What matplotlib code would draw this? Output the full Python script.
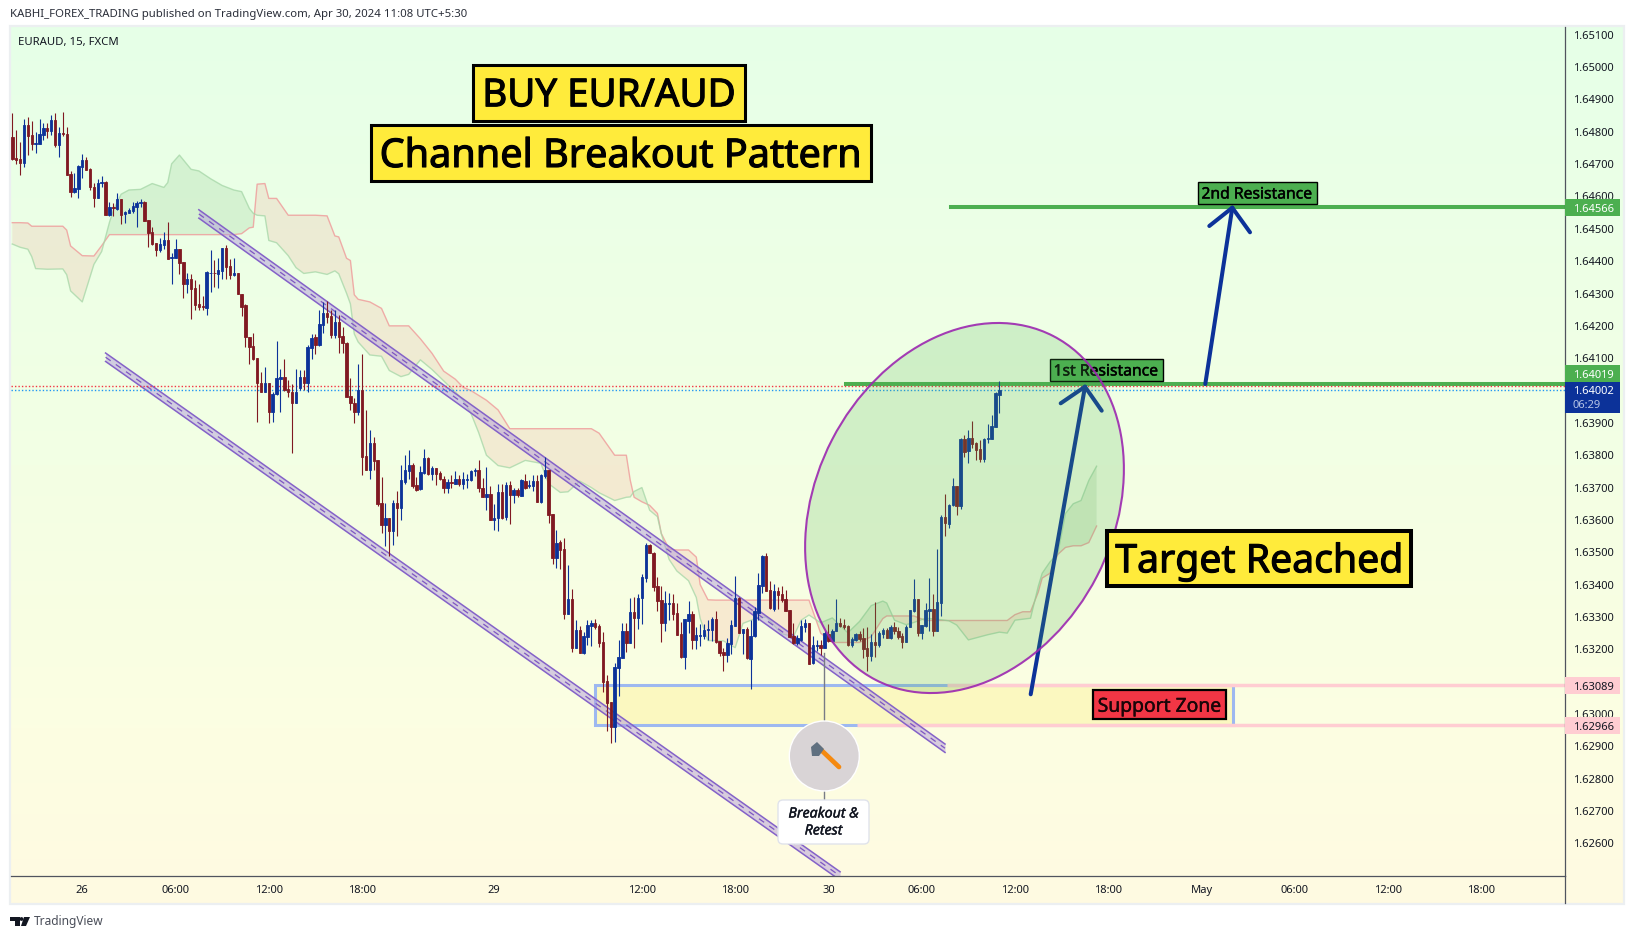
#EURAUD 15m chart with channel, cloud and notes, saved as out.png

import numpy as np
import matplotlib
matplotlib.use('Agg')
import matplotlib.pyplot as plt
import matplotlib.patheffects as pe
from matplotlib.colors import LinearSegmentedColormap, to_rgba
from matplotlib.patches import Rectangle, Ellipse, Circle, FancyBboxPatch, Polygon
from matplotlib.transforms import Affine2D, IdentityTransform

plt.rcParams['font.family'] = ['Noto Sans', 'DejaVu Sans']

#candles, all prices in points above 1.60000
opens = [4785,4718,4716,4704,4821,4790,4763,4763,4790,4813,
    4803,4836,4759,4796,4793,4669,4614,4623,4692,4713,
    4685,4630,4596,4643,4645,4543,4567,4560,4592,4545,
    4549,4556,4569,4581,4583,4527,4490,4456,4435,4450,
    4465,4411,4411,4438,4396,4330,4345,4316,4267,4261,
    4256,4362,4364,4360,4371,4441,4385,4357,4364,4299,
    4263,4166,4138,4101,4023,3997,4023,3935,3988,4037,
    4042,4004,3996,3963,4009,4042,4022,4133,4164,4140,
    4203,4239,4230,4172,4211,4169,4147,3983,3962,3935,
    4002,3798,3754,3837,3785,3651,3584,3605,3567,3651,
    3637,3718,3752,3769,3707,3696,3745,3792,3741,3759,
    3745,3728,3699,3717,3712,3725,3710,3724,3723,3751,
    3754,3700,3671,3680,3599,3607,3685,3609,3707,3676,
    3692,3674,3720,3704,3704,3720,3656,3736,3754,3617,
    3482,3531,3510,3309,3355,3203,3259,3187,3239,3272,
    3280,3273,3222,3102,3037,2961,3142,3174,3255,3218,
    3314,3296,3358,3420,3522,3499,3395,3352,3282,3341,
    3344,3311,3247,3177,3288,3309,3228,3241,3241,3259,
    3261,3293,3225,3191,3182,3216,3272,3357,3251,3264,
    3170,3241,3311,3395,3488,3383,3326,3381,3371,3354,
    3321,3242,3218,3228,3270,3282,3158,3210,3213,3204,
    3247,3227,3255,3280,3275,3273,3213,3229,3247,3234,
    3204,3179,3222,3213,3247,3260,3234,3270,3257,3241,
    3223,3268,3319,3355,3249,3272,3319,3325,3255,3344,
    3610,3587,3645,3705,3643,3851,3814,3853,3839,3818,
    3787,3849,3851,3888,3987]
highs = [4859,4807,4769,4839,4845,4833,4800,4839,4828,4826,
    4852,4857,4814,4860,4814,4679,4674,4697,4730,4723,
    4687,4643,4653,4663,4648,4584,4581,4610,4592,4556,
    4563,4584,4586,4592,4585,4527,4506,4456,4471,4490,
    4521,4424,4468,4438,4396,4362,4360,4342,4330,4293,
    4370,4435,4404,4411,4441,4450,4406,4411,4364,4299,
    4268,4166,4179,4101,4058,4074,4023,3997,4153,4066,
    4098,4033,4021,4067,4064,4064,4141,4175,4175,4249,
    4273,4277,4249,4249,4234,4196,4149,4038,3976,4082,
    4113,3940,3878,3857,3785,3734,3651,3605,3662,3690,
    3769,3800,3815,3777,3733,3766,3818,3795,3766,3759,
    3752,3735,3725,3738,3751,3738,3749,3741,3754,3759,
    3785,3731,3764,3704,3649,3710,3712,3718,3720,3700,
    3700,3725,3741,3723,3738,3738,3741,3793,3754,3617,
    3570,3537,3543,3460,3385,3292,3272,3254,3290,3292,
    3295,3278,3252,3120,3037,3158,3228,3282,3282,3357,
    3362,3370,3434,3530,3527,3501,3424,3395,3380,3373,
    3370,3342,3285,3295,3349,3318,3270,3278,3278,3290,
    3300,3319,3225,3203,3234,3290,3426,3362,3264,3270,
    3290,3331,3437,3491,3499,3411,3403,3393,3396,3383,
    3321,3282,3244,3290,3295,3282,3241,3228,3229,3255,
    3277,3262,3355,3296,3293,3275,3239,3251,3255,3265,
    3270,3247,3345,3255,3265,3265,3275,3285,3270,3249,
    3275,3321,3417,3355,3275,3342,3419,3371,3509,3615,
    3679,3649,3729,3705,3853,3861,3878,3906,3842,3847,
    3853,3898,3924,3994,4029]
lows = [4713,4700,4666,4692,4728,4744,4735,4762,4774,4782,
    4790,4754,4723,4788,4667,4599,4610,4596,4658,4682,
    4620,4569,4596,4630,4543,4540,4540,4558,4515,4519,
    4548,4550,4507,4566,4525,4445,4450,4417,4429,4437,
    4408,4330,4409,4360,4287,4301,4222,4249,4249,4249,
    4234,4306,4321,4318,4344,4346,4346,4354,4297,4229,
    4136,4082,4095,3904,3994,3997,3901,3904,3986,3935,
    4000,3979,3806,3963,4002,4002,3997,4099,4113,4138,
    4179,4208,4162,4162,4115,4115,3979,3940,3899,3925,
    3739,3754,3727,3754,3643,3559,3520,3489,3523,3550,
    3599,3712,3728,3700,3690,3694,3741,3738,3723,3707,
    3723,3684,3684,3700,3710,3704,3697,3700,3721,3735,
    3687,3671,3630,3599,3570,3566,3604,3601,3587,3653,
    3671,3673,3697,3700,3690,3656,3651,3731,3591,3465,
    3452,3448,3295,3309,3192,3203,3189,3185,3213,3210,
    3264,3208,3069,2948,2909,2914,3055,3174,3192,3218,
    3205,3264,3277,3409,3498,3381,3319,3223,3257,3290,
    3292,3245,3172,3139,3249,3201,3201,3210,3233,3228,
    3226,3220,3180,3134,3161,3185,3272,3249,3185,3169,
    3076,3239,3290,3375,3379,3326,3319,3326,3347,3319,
    3237,3216,3213,3226,3254,3154,3156,3195,3182,3203,
    3224,3224,3255,3268,3262,3210,3206,3227,3227,3172,
    3134,3165,3177,3208,3234,3234,3231,3247,3231,3203,
    3221,3268,3316,3242,3231,3270,3255,3242,3255,3303,
    3550,3576,3643,3615,3633,3795,3777,3822,3785,3780,
    3780,3839,3849,3888,3931]
closes = [4716,4714,4704,4821,4788,4762,4766,4793,4813,4803,
    4836,4759,4797,4792,4667,4615,4627,4695,4713,4682,
    4628,4596,4643,4645,4543,4569,4565,4592,4543,4553,
    4557,4571,4580,4583,4525,4488,4453,4435,4453,4465,
    4408,4414,4437,4395,4330,4345,4314,4265,4258,4258,
    4365,4364,4362,4373,4441,4383,4356,4362,4297,4259,
    4164,4136,4098,4023,3997,4023,3935,3990,4038,4041,
    4002,3994,3963,3997,4042,4022,4136,4162,4140,4206,
    4239,4228,4173,4211,4167,4146,3981,3960,3935,4002,
    3796,3754,3837,3782,3649,3584,3605,3567,3651,3636,
    3723,3754,3769,3704,3694,3749,3790,3741,3759,3741,
    3727,3700,3717,3714,3725,3710,3726,3726,3752,3754,
    3699,3671,3680,3599,3607,3685,3607,3707,3676,3692,
    3676,3723,3700,3707,3720,3656,3738,3754,3615,3482,
    3530,3506,3309,3355,3205,3259,3189,3241,3275,3280,
    3270,3220,3100,3035,2961,3144,3175,3255,3218,3314,
    3298,3360,3422,3522,3498,3393,3350,3282,3342,3344,
    3309,3245,3177,3293,3309,3228,3244,3244,3261,3264,
    3294,3224,3189,3182,3220,3275,3357,3251,3264,3172,
    3242,3319,3398,3488,3381,3329,3381,3367,3352,3319,
    3239,3218,3234,3272,3282,3156,3213,3213,3204,3249,
    3227,3258,3280,3272,3270,3213,3231,3247,3231,3202,
    3179,3222,3213,3249,3260,3236,3270,3255,3239,3223,
    3270,3321,3355,3249,3274,3321,3324,3258,3345,3610,
    3589,3647,3705,3643,3851,3810,3853,3834,3816,3787,
    3850,3853,3890,3991,4002]

#ichimoku cloud, read at these bars
cloud_bars = [0,2,4,5,6,9,13,14,15,18,21,23,25,26,28,30,33,36,39,40,41,43,46,48,51,54,57,59,61,62,63,65,66,68,71,73,75,78,81,83,84,
    86,87,88,89,92,95,97,100,102,105,108,111,114,116,118,120,122,125,128,132,136,138,141,143,146,149,151,155,158,159,160,162,164,
    166,167,169,171,174,176,177,179,181,183,186,188,191,194,198,201,203,205,208,211,215,218,221,224,225,227,230,232,235,238,241,
    243,246,251,254,256,258,260,262,264,265,267,269,271,273,275,277,279]
span_red = [4519,4519,4518,4508,4508,4508,4508,4496,4447,4417,4416,4448,4482,4482,4482,4482,4482,4482,4482,4482,4482,4482,4482,4482,4482,4482,4482,4485,4503,4505,4638,4640,4594,4594,4542,4542,4542,4542,4540,4478,4475,
    4409,4402,4296,4282,4274,4254,4200,4200,4200,4160,4115,4060,4035,4010,4000,3985,3970,3940,3882,3882,3882,3882,3882,3882,3882,3882,3868,3800,3800,3723,3670,3656,3645,
    3620,3558,3510,3507,3507,3485,3400,3353,3352,3352,3352,3352,3352,3352,3352,3352,3352,3352,3250,3221,3221,3221,3239,3295,3303,3303,3303,3303,3289,3289,3289,
    3289,3289,3289,3289,3289,3307,3316,3316,3377,3420,3435,3493,3515,3520,3520,3530,3581]
span_green = [4453,4443,4437,4414,4377,4375,4376,4358,4308,4274,4390,4430,4520,4557,4607,4620,4622,4640,4628,4643,4701,4728,4684,4679,4655,4634,4620,4615,4563,4548,4542,4540,4464,4457,4417,4380,4362,4367,4359,4370,4361,
    4301,4268,4175,4150,4110,4106,4062,4043,4050,4095,4065,4030,3995,3970,3930,3870,3800,3768,3761,3784,3775,3712,3685,3687,3720,3700,3684,3660,3670,3671,3688,3700,3630,
    3610,3557,3478,3442,3412,3360,3295,3227,3227,3226,3205,3280,3294,3300,3248,3239,3290,3306,3282,3297,3251,3286,3335,3349,3343,3290,3276,3283,3296,3293,3288,
    3275,3229,3245,3253,3250,3290,3293,3296,3395,3435,3470,3495,3620,3650,3660,3722,3766]

#two channel lines, (bar, price) of the ends
channel_top_bars = [48, 240]
channel_top_prices = [1.64546, 1.62894]
channel_low_bars = [24, 213]
channel_low_prices = [1.64103, 1.62499]

level_2nd = 1.64566
level_1st = 1.64019
last_price = 1.64002
red_dotted = 1.64014
zone_top = 1.63089
zone_bottom = 1.62966

price_ticks = [1.626,1.627,1.628,1.629,1.630,1.631,1.632,1.633,1.634,1.635,1.636,1.637,1.638,1.639,
    1.640,1.641,1.642,1.643,1.644,1.645,1.646,1.647,1.648,1.649,1.650,1.651]
time_bars = [18,42,66,90,124,162,186,210,234,258,282,306,330,354,378]
time_labels = ['26','06:00','12:00','18:00','29','12:00','18:00','30','06:00','12:00','18:00','May','06:00','12:00','18:00']

BLUE = '#0C3299'
RED = '#801922'
GREEN = '#4CAF50'
PINK = '#FFCDD2'
YELLOW = '#FFEB3B'
TXT = '#131722'

W, H = 1634, 939
fig = plt.figure(figsize=(W/100, H/100), dpi=100, facecolor='white')

#gradient panel behind everything
bg = fig.add_axes([11/W, (H-903)/H, (1623-11)/W, (903-27)/H], zorder=0)
stops = [(0, (230/255, 1, 232/255)), (0.5, (243/255, 1, 228/255)), (0.8, (252/255, 254/255, 226/255)), (1, (1, 250/255, 225/255))]
cmap = LinearSegmentedColormap.from_list('bg', stops)
bg.imshow(np.linspace(0, 1, 256).reshape(-1, 1), cmap=cmap, aspect='auto')
bg.axis('off')

ax = fig.add_axes([11/W, (H-876)/H, (1564.5-11)/W, (876-27)/H], zorder=1)
ax.patch.set_visible(False)
ax.set_xlim(-0.335, 399.4)
ax.set_ylim(1.62499, 1.65124)

pix = Affine2D().scale(1, -1).translate(0, H)    #top-left pixel coords for the notes

#outer frame
fig.add_artist(Rectangle((10, 26), 1614, 878, transform=pix, fill=False, ec='#ECEFF1', lw=1.6))

#cloud
cb = np.array(cloud_bars)
sr = 1.6 + np.array(span_red)*1e-5
sg = 1.6 + np.array(span_green)*1e-5
ax.fill_between(cb, sr, sg, where=sg >= sr, interpolate=True, color='#43A047', alpha=0.13, lw=0, zorder=1)
ax.fill_between(cb, sr, sg, where=sg < sr, interpolate=True, color='#F44336', alpha=0.10, lw=0, zorder=1)
ax.plot(cb, sr, color='#EF9A9A', lw=1, alpha=0.8, zorder=1.2)
ax.plot(cb, sg, color='#A5D6A7', lw=1, alpha=0.75, zorder=1.2)

#support zone
ax.add_patch(Rectangle((150, zone_bottom), 164, zone_top-zone_bottom, fc='#FBF8C0', ec='#9DB8F0', lw=2.2, zorder=1.4))
ax.plot([240.5, 399.4], [zone_top, zone_top], color=PINK, lw=2.5, solid_capstyle='butt', zorder=1.5)
ax.plot([217.4, 399.4], [zone_bottom, zone_bottom], color=PINK, lw=2.5, solid_capstyle='butt', zorder=1.5)

#channel lines
def channel(bars, prices):
    bars = np.array(bars)
    prices = np.array(prices)
    off = 0.00013
    ax.fill_between(bars, prices-off, prices+off, color='#B39DDB', alpha=0.5, lw=0, zorder=2)
    ax.plot(bars, prices+off, color='#8462C8', lw=1.1, zorder=2.1)
    ax.plot(bars, prices-off, color='#8462C8', lw=1.1, zorder=2.1)
    ax.plot(bars, prices, color='#7E57C2', lw=0.9, dashes=(5, 5), zorder=2.1)

channel(channel_top_bars, channel_top_prices)
channel(channel_low_bars, channel_low_prices)

#levels
ax.plot([241.5, 399.4], [level_2nd, level_2nd], color=GREEN, lw=2.9, zorder=2.2)
ax.plot([214.5, 399.4], [level_1st, level_1st], color=GREEN, lw=2.9, zorder=2.2)
ax.axhline(red_dotted, color='#F23645', lw=1, ls=(0, (1, 1.5)), zorder=2.3)
ax.axhline(last_price, color='#2196F3', lw=1, ls=(0, (1, 1.5)), zorder=2.3)

#candles
o = 1.6 + np.array(opens)*1e-5
h = 1.6 + np.array(highs)*1e-5
l = 1.6 + np.array(lows)*1e-5
c = 1.6 + np.array(closes)*1e-5
idx = np.arange(len(o))
cols = [BLUE if c[i] >= o[i] else RED for i in idx]
ax.vlines(idx, l, h, colors=cols, lw=0.8, zorder=3)
ax.bar(idx, np.abs(c-o), bottom=np.minimum(o, c), width=0.62, color=cols, edgecolor=cols, linewidth=0.6, zorder=3.1)

#axes look
ax.set_yticks(price_ticks)
ax.set_yticklabels(['%.5f' % p for p in price_ticks])
ax.yaxis.tick_right()
ax.set_xticks(time_bars)
ax.set_xticklabels(time_labels)
ax.tick_params(axis='y', length=0, pad=5.8, labelsize=8, labelcolor=TXT)
ax.tick_params(axis='x', length=0, pad=6.5, labelsize=8, labelcolor=TXT)
for s in ['top', 'left']:
    ax.spines[s].set_visible(False)
ax.spines['right'].set_color('#50535E')
ax.spines['bottom'].set_color('#50535E')
ax.spines['right'].set_linewidth(0.9)
ax.spines['bottom'].set_linewidth(0.9)
ax.plot([1564.5, 1564.5], [876, 903], transform=pix, color='#50535E', lw=0.9, clip_on=False, zorder=3)

#notes, given in pixels from the top-left corner
def box(x0, y0, x1, y1, label, fc, size, lw=2.2, color='black', stroke=0, z=6, dy=0):
    ax.add_patch(Rectangle((x0, y0), x1-x0, y1-y0, transform=pix, fc=fc, ec='black', lw=lw, clip_on=False, zorder=z))
    t = ax.text((x0+x1)/2, (y0+y1)/2+dy, label, transform=pix, fontsize=size, color=color, ha='center', va='center_baseline', zorder=z+0.1)
    if stroke:
        t.set_path_effects([pe.withStroke(linewidth=stroke, foreground=color)])    #thicker than the regular font

box(473, 64.5, 745, 121, 'BUY EUR/AUD', YELLOW, 27.7, stroke=0.8, dy=-1)
box(371, 125, 870.5, 181, 'Channel Breakout Pattern', YELLOW, 28.5, stroke=0.8, dy=-1)
box(1107, 530.5, 1411, 586, 'Target Reached', YELLOW, 28.2, lw=2.9, stroke=0.8, dy=-1)
box(1092.5, 690, 1226, 718.5, 'Support Zone', '#F23645', 13.9, lw=1.6, color='#1a0508', stroke=0.3)
box(1049.5, 358.5, 1162.5, 380.5, '1st Resistance', GREEN, 11.3, lw=1, stroke=0.3, z=4)
box(1197.5, 181.5, 1316.5, 203.5, '2nd Resistance', GREEN, 11.3, lw=1, stroke=0.3)

#arrows
def arrow(tail, tip, wing1, wing2):
    for a, b in [(tail, tip), (wing1, tip), (wing2, tip)]:
        ax.plot([a[0], b[0]], [a[1], b[1]], transform=pix, color=BLUE, lw=2.9, solid_capstyle='round', clip_on=False, zorder=4.2)

arrow((1030.7, 694.3), (1085, 386.7), (1060.7, 403.3), (1101.7, 410.7))
arrow((1205.3, 384), (1232.3, 207.7), (1209.3, 226), (1250, 232.3))

#big ellipse over the breakout
ax.add_patch(Ellipse((964.5, H-508), 387, 298, angle=62.7, transform=IdentityTransform(),
    fc=to_rgba(GREEN, 0.2), ec=to_rgba('#9C27B0', 0.9), lw=1.5, clip_on=False, zorder=5))

#breakout note with the axe
ax.plot([824.3, 824.3], [653, 800], transform=pix, color='#787B86', lw=1, clip_on=False, zorder=5.5)
ax.add_patch(Circle((824.3, H-756), 35, transform=IdentityTransform(), fc='#D9D4D6', ec='white', lw=1, zorder=6))
ax.plot([818, 839], [747, 767], transform=pix, color='#F5890F', lw=3.4, solid_capstyle='round', zorder=6.1)
ax.add_patch(Polygon([(811, 747), (817, 742), (824, 749), (819, 756), (812, 756)], closed=True, transform=pix, fc='#607080', ec='none', zorder=6.2))
ax.add_patch(FancyBboxPatch((780, 802), 87, 40, boxstyle='round,pad=2,rounding_size=5', transform=pix, fc='white', ec='#E0E3EB', lw=1, clip_on=False, zorder=6))
for yy, line in [(814, 'Breakout &'), (831, 'Retest')]:
    t = ax.text(823.5, yy, line, transform=pix, fontsize=10.2, style='italic', color=TXT, ha='center', va='center', zorder=6.1)
    t.set_path_effects([pe.withStroke(linewidth=0.3, foreground=TXT)])

#price tags on the axis
def tag(y0, y1, label, fc, color, weight='normal'):
    ax.add_patch(Rectangle((1564.5, y0), 55.5, y1-y0, transform=pix, fc=fc, ec='none', clip_on=False, zorder=7))
    ax.text(1572.7, (y0+y1)/2, label, transform=pix, fontsize=8, color=color, weight=weight, ha='left', va='center_baseline', zorder=7.1)

tag(199, 216, '%.5f' % level_2nd, GREEN, 'white', 'bold')
tag(365, 382, '%.5f' % level_1st, GREEN, 'white', 'bold')
tag(382, 413, '', BLUE, 'white')
ax.text(1572.7, 390.5, '%.5f' % last_price, transform=pix, fontsize=8, color='white', weight='bold', ha='left', va='center_baseline', zorder=7.1)
ax.text(1572.7, 404.5, '06:29', transform=pix, fontsize=8, color='#B6C4E6', ha='left', va='center_baseline', zorder=7.1)
tag(677, 694, '%.5f' % zone_top, PINK, TXT)
tag(717, 734, '%.5f' % zone_bottom, PINK, TXT)

#header and footer text
fig.text(10/W, 1-15/H, 'KABHI_FOREX_TRADING published on TradingView.com, Apr 30, 2024 11:08 UTC+5:30', fontsize=8.2, color='#2a2e39', va='center')
fig.text(18/W, 1-42/H, 'EURAUD, 15, FXCM', fontsize=8.2, color=TXT, va='center')
fig.text(33.5/W, 1-922/H, 'TradingView', fontsize=8.6, color='#4a4e59', va='center')

#logo
logo = [[(10, 917), (20, 917), (20, 926), (15, 926), (15, 921), (10, 921)],
        [(24, 917), (30, 917), (26, 926), (21, 926)]]
for pts in logo:
    fig.add_artist(Polygon(pts, closed=True, transform=pix, fc='#131722', ec='none'))
fig.add_artist(Circle((21.5, H-919), 1.9, transform=IdentityTransform(), fc='#131722', ec='none'))

fig.savefig('out.png', dpi=100)
